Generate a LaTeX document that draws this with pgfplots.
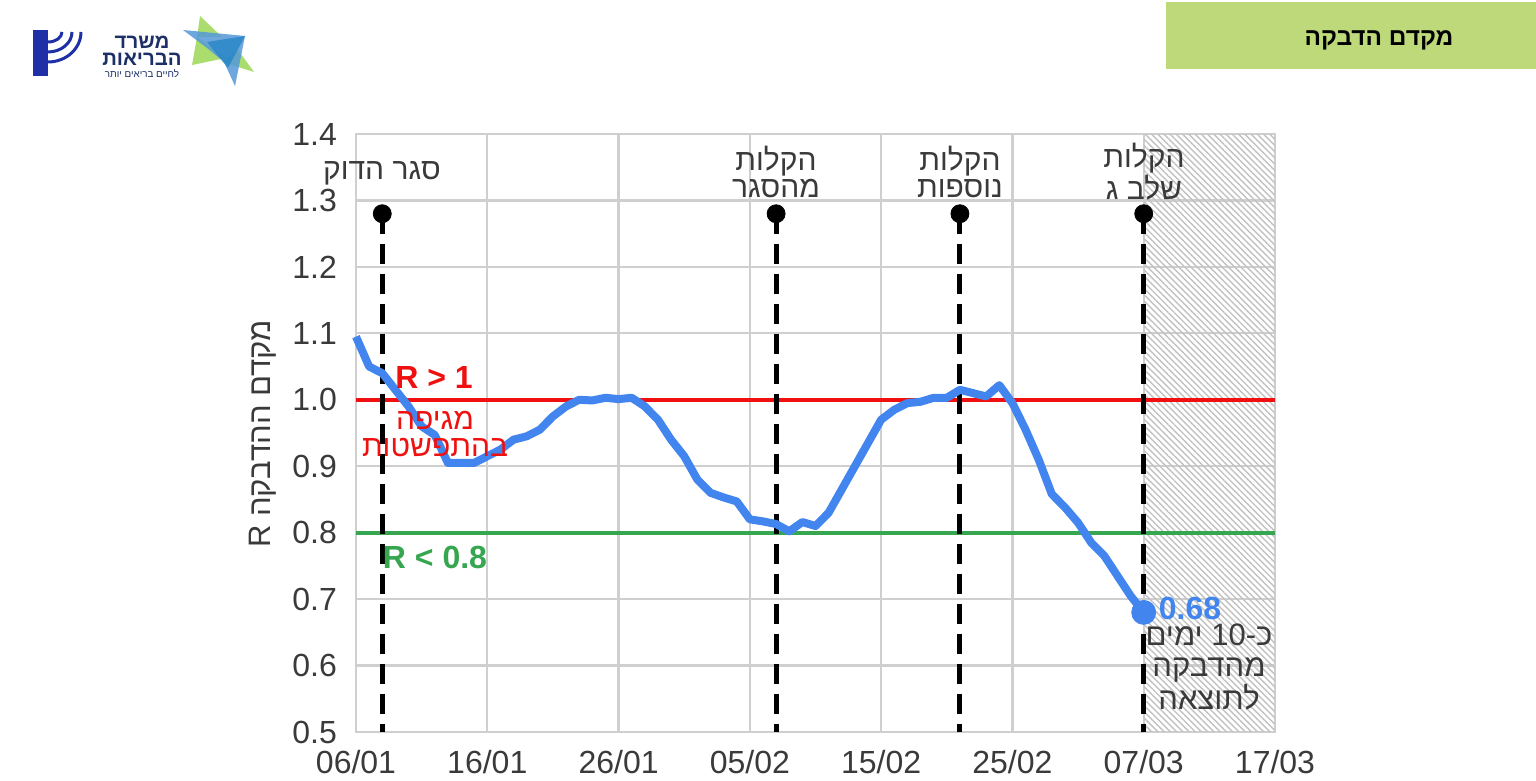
\documentclass[border=0pt]{standalone}
\usepackage{fontspec}
\usepackage{pgfplots}
\usepackage{pgfplotstable}
\pgfplotsset{compat=1.18}
\usetikzlibrary{patterns.meta}
\setmainfont{Liberation Sans}
\newfontfamily\he[Script=Hebrew]{Liberation Sans}
\TeXXeTstate=1
\newcommand{\R}[1]{\beginR #1\endR}
\definecolor{gridc}{HTML}{CFCFCF}
\definecolor{txt}{HTML}{3A3A3A}
\definecolor{rline}{HTML}{F01010}
\definecolor{gline}{HTML}{36A650}
\definecolor{bline}{HTML}{4285EE}
\definecolor{hdr}{HTML}{BDD97A}
\definecolor{navy}{HTML}{1C2F66}
\definecolor{emblem}{HTML}{1F2FA8}
\pgfplotstableread{
d r
0 1.095
1 1.05
2 1.04
3 1.015
4 0.99
5 0.96
6 0.947
7 0.905
8 0.905
9 0.905
10 0.915
11 0.925
12 0.94
13 0.945
14 0.955
15 0.975
16 0.99
17 1.0
18 0.999
19 1.003
20 1.001
21 1.003
22 0.99
23 0.97
24 0.94
25 0.915
26 0.88
27 0.86
28 0.853
29 0.847
30 0.82
31 0.817
32 0.813
33 0.802
34 0.816
35 0.81
36 0.83
37 0.865
38 0.90
39 0.935
40 0.97
41 0.985
42 0.995
43 0.997
44 1.003
45 1.003
46 1.015
47 1.01
48 1.005
49 1.022
50 0.995
51 0.955
52 0.91
53 0.858
54 0.838
55 0.815
56 0.785
57 0.765
58 0.735
59 0.705
60 0.68
}\Rdata
\begin{document}
\begin{tikzpicture}
\path[use as bounding box,fill=white] (0,0) rectangle (768pt,390.5pt);
\begin{axis}[
  at={(178pt,24.5pt)},anchor=south west,
  scale only axis,width=459.5pt,height=299pt,
  xmin=0,xmax=70,ymin=0.5,ymax=1.4,
  xtick={0,10,...,70},
  xticklabels={06/01,16/01,26/01,05/02,15/02,25/02,07/03,17/03},
  ytick={0.5,0.6,...,1.4},
  /pgf/number format/assume math mode=true,
  /pgf/number format/fixed,/pgf/number format/fixed zerofill,/pgf/number format/precision=1,
  major tick length=0pt,
  grid=major,
  grid style={gridc,line width=1.1pt},
  axis line style={gridc,line width=1.1pt},
  tick label style={font=\fontsize{16}{17}\selectfont,text=txt},
  xticklabel style={yshift=-5.5pt},
  yticklabel style={xshift=-6pt},
  clip=false,
]
\addplot[draw=none,pattern={Lines[angle=-45,distance=2.2pt,line width=0.7pt]},pattern color=black!24] coordinates {(60,0.5) (70,0.5) (70,1.4) (60,1.4)} \closedcycle;
\addplot[rline,line width=2pt] coordinates {(0,1) (70,1)};
\addplot[gline,line width=2pt] coordinates {(0,0.8) (70,0.8)};
\addplot[black,line width=2.5pt,dash pattern=on 10pt off 5pt] coordinates {(2,1.28) (2,0.5)};
\addplot[black,line width=2.5pt,dash pattern=on 10pt off 5pt] coordinates {(32,1.28) (32,0.5)};
\addplot[black,line width=2.5pt,dash pattern=on 10pt off 5pt] coordinates {(46,1.28) (46,0.5)};
\addplot[black,line width=2.5pt,dash pattern=on 10pt off 5pt] coordinates {(60,1.28) (60,0.5)};
\addplot[only marks,mark=*,mark size=4.5pt,black] coordinates {(2,1.28) (32,1.28) (46,1.28) (60,1.28)};
\addplot[bline,line width=4pt,line join=round] table[x=d,y=r] {\Rdata};
\addplot[only marks,mark=*,mark size=6pt,bline] coordinates {(60,0.68)};
\end{axis}
\begin{scope}[x=0.5pt,y=-0.5pt,yshift=390.5pt]
% header
\fill[hdr] (1166,2) rectangle (1536,69);
\node[font=\he\bfseries\fontsize{12.2}{14}\selectfont] at (1379,40) {\R{מקדם הדבקה}};
% logos
\fill[hdr!90!green] (200,16) -- (222,37) -- (197,37) -- cycle;
\fill[hdr!90!green] (197,37) -- (192,65) -- (226,58) -- cycle;
\fill[hdr!90!green] (238,50) -- (254,72) -- (222,62) -- cycle;
\fill[cyan!60!blue!70!white,opacity=.85] (183,30) -- (245,36) -- (235,86) -- (224,62) -- (207,48) -- cycle;
\fill[cyan!70!blue!90!black,opacity=.75] (207,42) -- (245,36) -- (228,68) -- cycle;
\node[font=\he\bfseries\fontsize{10.2}{8.7}\selectfont,align=center,text=navy] at (142,51) {\R{משרד}\\\R{הבריאות}};
\node[font=\he\fontsize{4.9}{5}\selectfont,text=navy] at (142,74) {\R{לחיים בריאים יותר}};
\fill[emblem] (33,30) rectangle (48,76);
\draw[emblem,line width=1.5pt] (81,32) arc (0:90:33 and 30);
\draw[emblem,line width=1.5pt] (72,32) arc (0:90:24 and 20);
\draw[emblem,line width=1.5pt] (62,32) arc (0:90:14 and 10);
% annotations
\node[font=\he\fontsize{15}{14}\selectfont,text=txt] at (382,173) {\R{סגר הדוק}};
\node[font=\he\fontsize{15}{13.5}\selectfont,text=txt,align=center] at (776,172) {\R{הקלות}\\\R{מהסגר}};
\node[font=\he\fontsize{15}{13.5}\selectfont,text=txt,align=center] at (960,172) {\R{הקלות}\\\R{נוספות}};
\node[font=\he\fontsize{15}{13.5}\selectfont,text=txt,align=center] at (1144,172) {\R{הקלות}\\\R{שלב ג}};
\node[font=\bfseries\fontsize{16}{17}\selectfont,text=rline] at (434,377) {R > 1};
\node[font=\he\fontsize{15}{13.5}\selectfont,text=rline,align=center] at (435,434) {\R{מגיפה}\\\R{בהתפשטות}};
\node[font=\bfseries\fontsize{16}{17}\selectfont,text=gline] at (435,557) {R < 0.8};
\node[font=\bfseries\fontsize{16}{17}\selectfont,text=bline] at (1190,608) {0.68};
\node[font=\he\fontsize{15.5}{15.3}\selectfont,text=txt,align=center] at (1209,667) {\R{כ-\beginL 10\endL{} ימים}\\\R{מהדבקה}\\\R{לתוצאה}};
\node[font=\he\fontsize{15.5}{16}\selectfont,text=txt,rotate=90] at (263,434) {\R{מקדם ההדבקה R}};
\end{scope}
\end{tikzpicture}
\end{document}
